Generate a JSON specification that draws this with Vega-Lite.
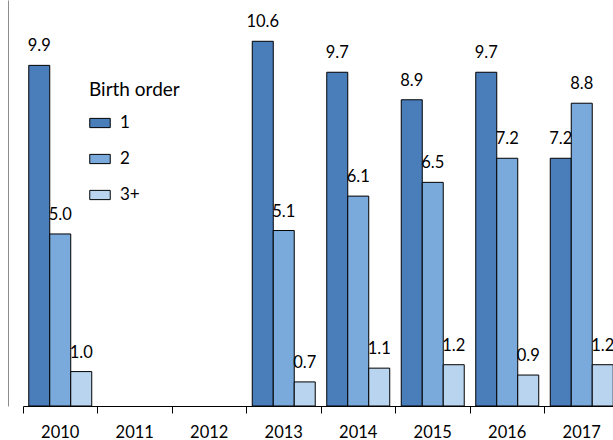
{
  "$schema": "https://vega.github.io/schema/vega-lite/v6.json",
  "width": 596,
  "height": 406,
  "autosize": {"type": "none"},
  "padding": {"left": 23, "top": 0, "right": 0, "bottom": 40},
  "config": {"view": {"stroke": null}, "font": "Lato"},
  "data": {
    "values": [
      {"year": "2010", "order": "1", "value": 9.9},
      {"year": "2010", "order": "2", "value": 5.0},
      {"year": "2010", "order": "3+", "value": 1.0},
      {"year": "2013", "order": "1", "value": 10.6},
      {"year": "2013", "order": "2", "value": 5.1},
      {"year": "2013", "order": "3+", "value": 0.7},
      {"year": "2014", "order": "1", "value": 9.7},
      {"year": "2014", "order": "2", "value": 6.1},
      {"year": "2014", "order": "3+", "value": 1.1},
      {"year": "2015", "order": "1", "value": 8.9},
      {"year": "2015", "order": "2", "value": 6.5},
      {"year": "2015", "order": "3+", "value": 1.2},
      {"year": "2016", "order": "1", "value": 9.7},
      {"year": "2016", "order": "2", "value": 7.2},
      {"year": "2016", "order": "3+", "value": 0.9},
      {"year": "2017", "order": "1", "value": 7.2},
      {"year": "2017", "order": "2", "value": 8.8},
      {"year": "2017", "order": "3+", "value": 1.2}
    ]
  },
  "encoding": {
    "xOffset": {"field": "order", "type": "nominal", "scale": {"domain": ["1", "2", "3+"], "paddingInner": 0, "paddingOuter": 0.274}},
    "y": {
      "field": "value", "type": "quantitative",
      "scale": {"domain": [0, 11.8], "nice": false, "zero": true},
      "axis": {"domain": true, "domainColor": "#8c8c8c", "offset": 15, "ticks": false, "labels": false, "title": null, "grid": false}
    }
  },
  "layer": [
    {
      "mark": {"type": "bar", "stroke": "#000000", "strokeWidth": 1},
      "encoding": {
        "x": {
          "field": "year", "type": "nominal",
          "scale": {"domain": ["2010", "2011", "2012", "2013", "2014", "2015", "2016", "2017"], "paddingInner": 0, "paddingOuter": 0},
          "axis": {"title": null, "bandPosition": 0, "labels": false, "tickSize": 7, "tickColor": "#000000", "domainColor": "#000000", "grid": false}
        },
        "color": {
          "field": "order", "type": "nominal",
          "scale": {"domain": ["1", "2", "3+"], "range": ["#4a7ebb", "#7aaadc", "#b9d4ef"]},
          "legend": {
            "title": "Birth order",
            "orient": "none",
            "legendX": 66,
            "legendY": 81,
            "titleFont": "Lato", "titleFontSize": 19, "titleFontWeight": "normal", "titleColor": "#000000", "titlePadding": 12,
            "labelFont": "Lato", "labelFontSize": 17, "labelColor": "#000000", "labelOffset": 9,
            "symbolType": "M-1,-0.45H1V0.45H-1Z", "symbolSize": 420, "symbolStrokeColor": "#000000", "symbolStrokeWidth": 1,
            "rowPadding": 17
          }
        }
      }
    },
    {
      "mark": {"type": "text", "baseline": "alphabetic", "dy": -14, "fontSize": 16.5, "color": "#000000"},
      "encoding": {
        "x": {
          "field": "year", "type": "nominal",
          "axis": {"title": null, "orient": "bottom", "ticks": false, "domain": false, "labelAngle": 0, "labelFontSize": 16.5, "labelColor": "#000000", "labelPadding": 18, "grid": false}
        },
        "text": {"field": "value", "type": "quantitative", "format": ".1f"}
      }
    }
  ],
  "resolve": {"axis": {"x": "independent"}}
}
